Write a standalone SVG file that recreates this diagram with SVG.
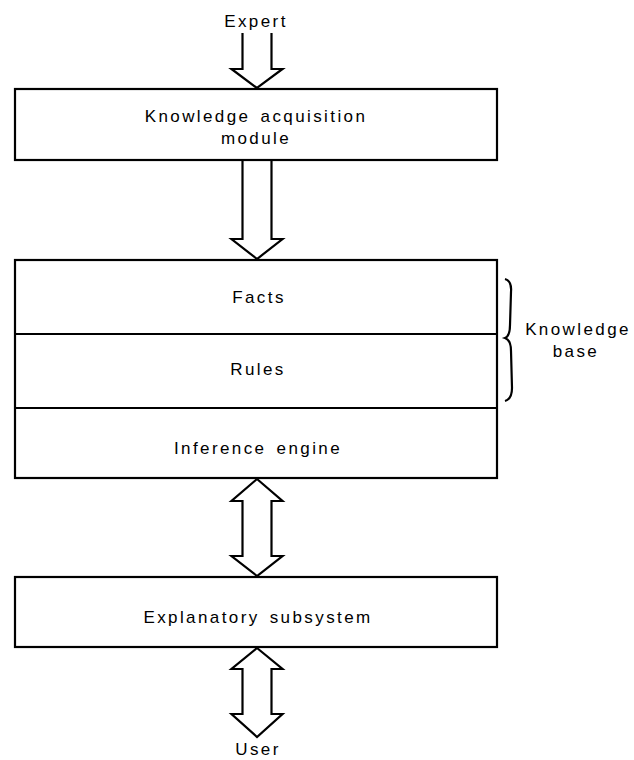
<svg xmlns="http://www.w3.org/2000/svg" width="634" height="760" viewBox="0 0 634 760">
<style>
.box{fill:#fff;stroke:#000;stroke-width:2.2}
.ln{fill:none;stroke:#000;stroke-width:2.2}
.ar{fill:#fff;stroke:#000;stroke-width:2.2;stroke-linejoin:miter}
text{font-family:"Liberation Sans",Arial,sans-serif;font-size:17px;letter-spacing:2.4px;word-spacing:3px;fill:#000;text-anchor:middle}
</style>
<rect width="634" height="760" fill="#fff"/>
<g id="connectors">
<path class="ar" d="M242.5,33 V69 H231.5 L257,88 L282.5,69 H271.5 V33"/>
<path class="ar" d="M242.5,160 V239 H231.5 L257,259 L282.5,239 H271.5 V160"/>
<path class="ar" d="M257,479 L282.5,501 H271.5 V556 H282.5 L257,576 L231.5,556 H242.5 V501 H231.5 Z"/>
<path class="ar" d="M257,648 L282.5,669 H271.5 V714 H282.5 L257,737 L231.5,714 H242.5 V669 H231.5 Z"/>
</g>
<g id="expert"><text x="256" y="27">Expert</text></g>
<g id="kam">
<rect class="box" x="15" y="89" width="482" height="71"/>
<text x="256" y="122">Knowledge acquisition</text>
<text x="256" y="144">module</text>
</g>
<g id="main">
<rect class="box" x="15" y="260" width="482" height="218"/>
<line class="ln" x1="15" y1="334" x2="497" y2="334"/>
<line class="ln" x1="15" y1="408" x2="497" y2="408"/>
</g>
<g id="facts"><text x="259" y="303">Facts</text></g>
<g id="rules"><text x="258" y="375">Rules</text></g>
<g id="inference"><text x="258" y="454">Inference engine</text></g>
<g id="kb">
<path class="ln" d="M505,279 Q512,281 511,292 L510,325 Q510,336 505,338 Q511,340 511,351 L512,388 Q512,399 505,401"/>
<text x="578" y="335">Knowledge</text>
<text x="576" y="357">base</text>
</g>
<g id="explanatory">
<rect class="box" x="15" y="577" width="482" height="70"/>
<text x="258" y="623">Explanatory subsystem</text>
</g>
<g id="user"><text x="258" y="755">User</text></g>
</svg>
